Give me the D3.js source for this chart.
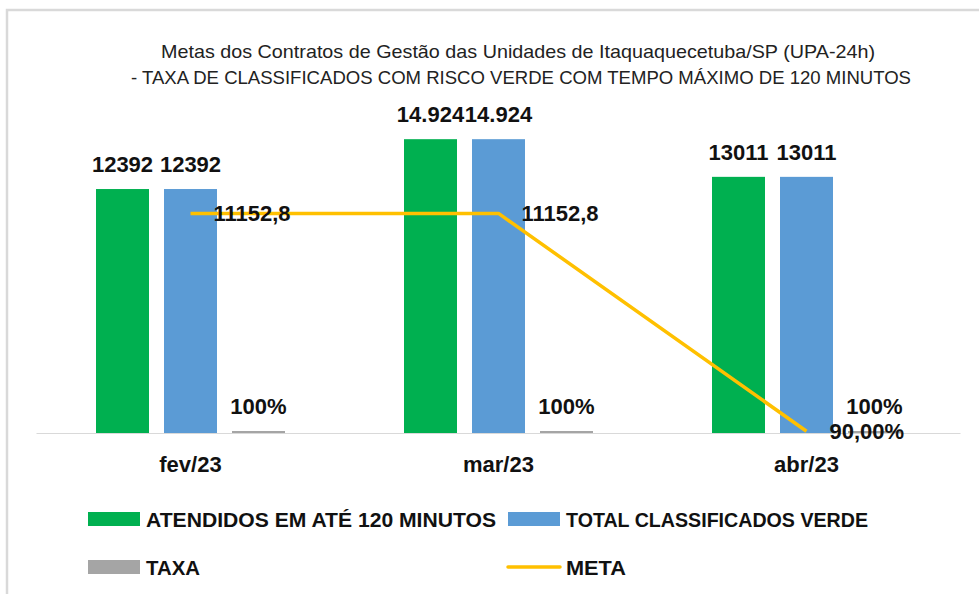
<!DOCTYPE html>
<html>
<head>
<meta charset="utf-8">
<script src="https://cdn.jsdelivr.net/npm/d3@7"></script>
<style>
  html, body { margin: 0; padding: 0; background: #fff; }
  svg { display: block; font-family: "Liberation Sans", Arial, sans-serif; }
</style>
</head>
<body>
<svg id="chart" width="979" height="594"></svg>
<script>
  var categories = ["fev/23", "mar/23", "abr/23"];
  var atendidos = [12392, 14924, 13011];
  var atendidosLabels = ["12392", "14.924", "13011"];
  var totalVerde = [12392, 14924, 13011];
  var totalLabels = ["12392", "14.924", "13011"];
  var taxa = [1, 1, 1];
  var taxaLabels = ["100%", "100%", "100%"];
  var meta = [11152.8, 11152.8, 90];
  var metaLabels = ["11152,8", "11152,8", "90,00%"];
  var titleLines = [
    "Metas dos Contratos de Gestão das Unidades de Itaquaquecetuba/SP (UPA-24h)",
    "- TAXA DE CLASSIFICADOS COM RISCO VERDE COM TEMPO MÁXIMO DE 120 MINUTOS"
  ];

  var colors = { atendidos: "#00b050", total: "#5b9bd5", taxa: "#a5a5a5", meta: "#ffc000" };

  var svg = d3.select("#chart");

  // chart frame (cropped at right / bottom)
  svg.append("rect")
    .attr("x", 7).attr("y", 10)
    .attr("width", 1000).attr("height", 700)
    .attr("fill", "none")
    .attr("stroke", "#d9d9d9")
    .attr("stroke-width", 2.5);

  // title
  svg.selectAll(".title")
    .data(titleLines)
    .enter().append("text")
      .attr("class", "title")
      .attr("x", function(d, i) { return i ? 521 : 518; })
      .attr("y", function(d, i) { return 58 + i * 26; })
      .attr("text-anchor", "middle")
      .attr("font-size", 19)
      .attr("fill", "#222")
      .attr("textLength", function(d, i) { return i ? 780 : 714; })
      .attr("lengthAdjust", "spacingAndGlyphs")
      .text(function(d) { return d; });

  var x0 = d3.scaleBand().domain(categories).range([36.5, 960.5]);
  var keys = ["atendidos", "total", "taxa"];
  var x1 = d3.scaleBand().domain(keys).range([0, x0.bandwidth()])
    .paddingInner(15 / 68).paddingOuter(0.875);
  var y = d3.scaleLinear().domain([0, 16000]).range([433, 118]);

  var rows = categories.map(function(c, i) {
    return {
      cat: c,
      bars: [
        { key: "atendidos", v: atendidos[i], label: atendidosLabels[i] },
        { key: "total", v: totalVerde[i], label: totalLabels[i] },
        { key: "taxa", v: taxa[i], label: taxaLabels[i] }
      ]
    };
  });

  // baseline
  svg.append("line")
    .attr("x1", x0.range()[0]).attr("x2", x0.range()[1])
    .attr("y1", y(0) + 0.5).attr("y2", y(0) + 0.5)
    .attr("stroke", "#d9d9d9").attr("stroke-width", 1);

  var groups = svg.selectAll(".cat")
    .data(rows)
    .enter().append("g")
      .attr("class", "cat")
      .attr("transform", function(d) { return "translate(" + x0(d.cat) + ",0)"; });

  groups.selectAll("rect")
    .data(function(d) { return d.bars; })
    .enter().append("rect")
      .attr("x", function(d) { return x1(d.key); })
      .attr("width", x1.bandwidth())
      .attr("y", function(d) { return y(0) - Math.max(2, y(0) - y(d.v)); })
      .attr("height", function(d) { return Math.max(2, y(0) - y(d.v)); })
      .attr("fill", function(d) { return colors[d.key]; });

  // category labels
  svg.selectAll(".catLabel")
    .data(categories)
    .enter().append("text")
      .attr("class", "catLabel")
      .attr("x", function(d) { return x0(d) + x0.bandwidth() / 2; })
      .attr("y", 472)
      .attr("text-anchor", "middle")
      .attr("font-size", 22)
      .attr("font-weight", "bold")
      .attr("fill", "#111")
      .text(function(d) { return d; });

  // META line
  var line = d3.line()
    .x(function(d, i) { return x0(categories[i]) + x0.bandwidth() / 2; })
    .y(function(d) { return y(d); });

  svg.append("path")
    .datum(meta)
    .attr("d", line)
    .attr("fill", "none")
    .attr("stroke", colors.meta)
    .attr("stroke-width", 3.5)
    .attr("stroke-linejoin", "round");

  // bar labels
  groups.selectAll(".barLabel")
    .data(function(d) { return d.bars; })
    .enter().append("text")
      .attr("class", "barLabel")
      .attr("x", function(d) { return x1(d.key) + x1.bandwidth() / 2; })
      .attr("y", function(d) { return y(0) - Math.max(2, y(0) - y(d.v)) - 17; })
      .attr("text-anchor", "middle")
      .attr("font-size", 22)
      .attr("font-weight", "bold")
      .attr("fill", "#111")
      .text(function(d) { return d.label; });

  // META labels
  svg.selectAll(".metaLabel")
    .data(meta)
    .enter().append("text")
      .attr("class", "metaLabel")
      .attr("x", function(d, i) { return x0(categories[i]) + x0.bandwidth() / 2 + 23; })
      .attr("y", function(d) { return y(d); })
      .attr("dy", "0.36em")
      .attr("font-size", 22)
      .attr("font-weight", "bold")
      .attr("fill", "#111")
      .text(function(d, i) { return metaLabels[i]; });

  // legend
  var legendItems = [
    { name: "ATENDIDOS EM ATÉ 120 MINUTOS", key: "atendidos", x: 88, y: 519, w: 350 },
    { name: "TOTAL CLASSIFICADOS VERDE", key: "total", x: 508, y: 519, w: 302 },
    { name: "TAXA", key: "taxa", x: 88, y: 567, w: 54 },
    { name: "META", key: "meta", x: 508, y: 567, w: 60 }
  ];

  var legend = svg.selectAll(".legend")
    .data(legendItems)
    .enter().append("g")
      .attr("class", "legend")
      .attr("transform", function(d) { return "translate(" + d.x + "," + d.y + ")"; });

  legend.each(function(d) {
    var g = d3.select(this);
    if (d.key === "meta") {
      g.append("line")
        .attr("x1", 0).attr("x2", 52)
        .attr("y1", 0).attr("y2", 0)
        .attr("stroke", colors.meta)
        .attr("stroke-width", 3.5)
        .attr("stroke-linecap", "round");
    } else {
      g.append("rect")
        .attr("x", 0).attr("y", -7)
        .attr("width", 52).attr("height", 14)
        .attr("fill", colors[d.key]);
    }
    g.append("text")
      .attr("x", 58)
      .attr("y", 0)
      .attr("dy", "0.36em")
      .attr("font-size", 21)
      .attr("font-weight", "bold")
      .attr("fill", "#111")
      .attr("textLength", d.w)
      .attr("lengthAdjust", "spacingAndGlyphs")
      .text(d.name);
  });
</script>
</body>
</html>
